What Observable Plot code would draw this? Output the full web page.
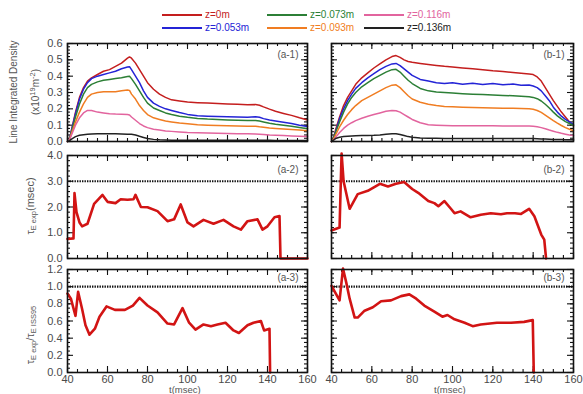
<!DOCTYPE html>
<html><head><meta charset="utf-8">
<script src="https://cdn.jsdelivr.net/npm/d3@7"></script>
<script src="https://cdn.jsdelivr.net/npm/@observablehq/plot@0.6"></script>
<style>
body{margin:0;background:#fff;}
#chart{position:relative;width:583px;height:394px;overflow:hidden;font-family:"Liberation Sans",Arial,sans-serif;color:#444;}
#chart svg{position:absolute;}
.ylab{position:absolute;white-space:nowrap;font-size:10px;color:#555;transform:translate(-50%,-50%) rotate(-90deg);line-height:1;}
.ylab sub{font-size:7.5px;vertical-align:-2px;}
.ylab sup{font-size:7.5px;vertical-align:4px;}
.leg{position:absolute;font-size:10px;white-space:nowrap;line-height:1;}
.legline{position:absolute;height:2px;width:40px;}
</style></head>
<body><div id="chart"></div>
<script>
// ---------- data ----------
const zLabels = ["z=0m","z=0.053m","z=0.073m","z=0.093m","z=0.116m","z=0.136m"];
const zColors = ["#c41e1e","#2424d6","#2c7f36","#f07d22","#e2649e","#222222"];

const tA1 = [40,41,42,44,46,48,50,52,55,58,61,64,67,70,71,72,74,76,78,80,83,86,89,92,96,100,105,110,115,120,125,130,134,136,138,141,144,148,152,156,160];
const a1_z0   = [0,0.01,0.07,0.18,0.27,0.33,0.37,0.39,0.41,0.43,0.44,0.46,0.48,0.51,0.518,0.51,0.48,0.44,0.40,0.36,0.32,0.29,0.27,0.255,0.248,0.242,0.238,0.235,0.232,0.23,0.228,0.225,0.226,0.222,0.212,0.198,0.185,0.172,0.16,0.145,0.132];
const a1_z053 = [0,0.01,0.07,0.17,0.26,0.32,0.36,0.385,0.40,0.41,0.42,0.43,0.445,0.456,0.458,0.44,0.40,0.36,0.31,0.27,0.235,0.215,0.2,0.19,0.177,0.166,0.158,0.155,0.153,0.151,0.15,0.149,0.151,0.148,0.14,0.131,0.125,0.118,0.11,0.1,0.092];
const a1_z073 = [0,0.01,0.06,0.15,0.23,0.29,0.33,0.35,0.365,0.375,0.38,0.385,0.39,0.398,0.40,0.385,0.35,0.31,0.27,0.235,0.205,0.19,0.175,0.165,0.155,0.148,0.141,0.137,0.135,0.132,0.13,0.128,0.129,0.125,0.12,0.112,0.105,0.1,0.094,0.086,0.078];
const a1_z093 = [0,0.01,0.05,0.12,0.18,0.23,0.27,0.29,0.30,0.305,0.305,0.305,0.31,0.315,0.313,0.29,0.26,0.22,0.19,0.165,0.145,0.135,0.125,0.12,0.113,0.108,0.103,0.1,0.098,0.097,0.095,0.094,0.094,0.09,0.087,0.083,0.08,0.077,0.074,0.07,0.066];
const a1_z116 = [0,0.01,0.04,0.1,0.145,0.175,0.19,0.19,0.18,0.175,0.17,0.168,0.167,0.165,0.162,0.15,0.13,0.11,0.095,0.085,0.075,0.07,0.065,0.062,0.058,0.055,0.053,0.052,0.05,0.049,0.048,0.047,0.046,0.045,0.043,0.04,0.038,0.036,0.034,0.032,0.03];
const a1_z136 = [0,0.005,0.015,0.03,0.038,0.042,0.045,0.046,0.047,0.048,0.048,0.047,0.046,0.045,0.045,0.044,0.04,0.032,0.025,0.018,0.013,0.01,0.009,0.008,0.008,0.008,0.008,0.008,0.007,0.007,0.007,0.007,0.007,0.007,0.007,0.007,0.006,0.006,0.006,0.006,0.006];

const tB1 = [40,41,42,44,46,48,50,52,55,58,61,64,67,70,72,74,76,78,80,84,88,92,96,100,105,110,115,120,125,130,134,138,140,142,144,146,148,150,152,154,156,158,160];
const b1_z0   = [0,0.02,0.07,0.15,0.22,0.27,0.31,0.35,0.39,0.42,0.45,0.475,0.50,0.52,0.526,0.515,0.50,0.49,0.485,0.478,0.472,0.466,0.46,0.456,0.45,0.445,0.44,0.433,0.428,0.422,0.418,0.413,0.41,0.395,0.37,0.33,0.29,0.25,0.215,0.18,0.15,0.12,0.095];
const b1_z053 = [0,0.02,0.06,0.14,0.2,0.25,0.29,0.325,0.36,0.39,0.415,0.44,0.46,0.475,0.478,0.465,0.445,0.425,0.405,0.38,0.37,0.36,0.355,0.36,0.35,0.356,0.349,0.355,0.347,0.352,0.345,0.346,0.34,0.33,0.31,0.28,0.25,0.21,0.18,0.155,0.135,0.12,0.105];
const b1_z073 = [0,0.02,0.055,0.12,0.18,0.23,0.27,0.3,0.335,0.36,0.385,0.405,0.425,0.44,0.442,0.425,0.4,0.375,0.355,0.325,0.31,0.303,0.3,0.297,0.293,0.29,0.287,0.285,0.282,0.28,0.277,0.274,0.27,0.262,0.248,0.228,0.205,0.18,0.157,0.138,0.122,0.11,0.098];
const b1_z093 = [0,0.015,0.04,0.09,0.13,0.165,0.195,0.22,0.25,0.27,0.29,0.31,0.33,0.345,0.347,0.33,0.305,0.28,0.26,0.24,0.228,0.22,0.214,0.213,0.21,0.208,0.207,0.205,0.204,0.203,0.202,0.2,0.197,0.19,0.178,0.162,0.145,0.128,0.112,0.098,0.085,0.075,0.066];
const b1_z116 = [0,0.01,0.025,0.055,0.08,0.1,0.115,0.128,0.142,0.155,0.165,0.175,0.185,0.19,0.188,0.18,0.165,0.15,0.135,0.115,0.103,0.1,0.098,0.097,0.097,0.096,0.096,0.096,0.095,0.095,0.095,0.095,0.093,0.09,0.085,0.078,0.07,0.063,0.056,0.05,0.045,0.04,0.036];
const b1_z136 = [0,0.008,0.018,0.026,0.03,0.032,0.034,0.035,0.036,0.037,0.038,0.04,0.045,0.048,0.047,0.043,0.037,0.03,0.026,0.022,0.02,0.02,0.019,0.019,0.019,0.019,0.019,0.019,0.018,0.018,0.018,0.018,0.018,0.017,0.016,0.015,0.014,0.013,0.012,0.012,0.011,0.011,0.01];

const tA2 = [40,43,43.5,44.5,46,47.3,50,53.3,57.5,60,64,66.6,70,73,74,76.7,80,85,90,93.3,96.6,100,103,108,113,118,123,126.7,130,135,137.5,140,143.5,146,146.5,160];
const tauA = [0.76,0.78,2.54,1.8,1.4,1.25,1.35,2.12,2.47,2.2,2.15,2.3,2.28,2.3,2.47,2.0,1.99,1.84,1.45,1.52,2.1,1.4,1.25,1.5,1.35,1.5,1.25,1.12,1.45,1.52,1.12,1.25,1.6,1.65,0,0];
const tB2 = [40,44,45,46,49,53,58,64,68,72,76,80,83,88,91,93,96,99,101,104,109,114,119,124,127,131,134,138,140.6,144,145.5,146.4];
const tauB = [1.09,1.2,4.08,3.0,1.93,2.5,2.63,2.9,2.8,2.9,2.97,2.7,2.55,2.23,2.15,2.03,2.23,1.95,1.76,1.83,1.6,1.7,1.76,1.72,1.76,1.76,1.73,1.93,1.64,0.93,0.73,0];

const tA3 = [40,41.7,44,45.3,47.3,49,51,53.7,56,59.5,63.7,68.7,72.7,76,80,85,90,93.3,97.5,100.8,104,108,111.7,115,119,123,125.7,130,133,136.7,138.3,141,141.3];
const ratioA = [0.92,0.86,0.66,0.94,0.74,0.55,0.44,0.51,0.65,0.77,0.73,0.73,0.78,0.87,0.78,0.70,0.57,0.56,0.75,0.58,0.5,0.56,0.54,0.56,0.58,0.49,0.46,0.55,0.58,0.6,0.49,0.51,0];
const tB3 = [40,44,45.7,47.3,49,51.5,53,56.4,60.5,64.6,69.5,74.5,78.6,82,86,91,95,97.5,101,106,110,114,122,129,135.5,139.8,140.3];
const ratioB = [1.01,0.84,1.21,1.05,0.86,0.64,0.64,0.72,0.76,0.83,0.84,0.89,0.91,0.86,0.78,0.71,0.65,0.67,0.62,0.58,0.54,0.56,0.58,0.58,0.59,0.61,0];

const xTicks = [40,60,80,100,120,140,160];
const y1Ticks = [0,0.1,0.2,0.3,0.4,0.5,0.6];
const y2Ticks = [0,1,2,3,4];
const y3Ticks = [0,0.2,0.4,0.6,0.8,1.0,1.2];
const panelLabels = ["(a-1)","(b-1)","(a-2)","(b-2)","(a-3)","(b-3)"];
const tauRef = [3.0];
const ratioRef = [1.0];

// ---------- helpers ----------
const chart = document.getElementById("chart");
const fmt = d3.format(".1f");
const xMinor = d3.range(40, 160.01, 5);

function longData(t, series) {
  const out = [];
  series.forEach((s, i) => s.forEach((v, j) => out.push({t: t[j], v, z: zLabels[i]})));
  return out;
}
const dataA1 = longData(tA1, [a1_z0,a1_z053,a1_z073,a1_z093,a1_z116,a1_z136]);
const dataB1 = longData(tB1, [b1_z0,b1_z053,b1_z073,b1_z093,b1_z116,b1_z136]);

const cols = [
  {left: 0, width: 312, ml: 67, mr: 5},
  {left: 312, width: 271, ml: 19, mr: 10}
];
const rows = [
  {top: 36, height: 112, mt: 7, mb: 7, domain: [0,0.6], ticks: y1Ticks, minor: d3.range(0,0.6001,0.02), labDy: 7},
  {top: 148, height: 117, mt: 7, mb: 7, domain: [0,4], ticks: y2Ticks, minor: d3.range(0,4.001,0.2), labDy: 10},
  {top: 262, height: 132, mt: 7, mb: 22, domain: [0,1.2], ticks: y3Ticks, minor: d3.range(0,1.2001,0.05), labDy: 4}
];

function panel(ci, ri, marks) {
  const c = cols[ci], r = rows[ri];
  const W = c.width - c.ml - c.mr, H = r.height - r.mt - r.mb;
  const tk = {stroke: "#111", strokeWidth: 1.1};
  const svg = Plot.plot({
    width: c.width, height: r.height,
    marginLeft: c.ml, marginRight: c.mr, marginTop: r.mt, marginBottom: r.mb,
    style: {background: "transparent", fontSize: "11px", fontFamily: "Liberation Sans, Arial, sans-serif", color: "#4a4a4a", overflow: "visible"},
    x: ri === 2 ? {domain: [40,160], ticks: xTicks, tickSize: 0, tickPadding: 3, tickFormat: d => d, label: null}
                : {domain: [40,160], axis: null},
    y: ci === 0 ? {domain: r.domain, ticks: r.ticks, tickSize: 0, tickPadding: 5, tickFormat: fmt, label: null}
                : {domain: r.domain, axis: null},
    color: {domain: zLabels, range: zColors},
    marks: [
      Plot.tickX(xMinor, {x: d => d, insetTop: H - 3, ...tk}),
      Plot.tickX(xMinor, {x: d => d, insetBottom: H - 3, ...tk}),
      Plot.tickX(xTicks, {x: d => d, insetTop: H - 6, ...tk}),
      Plot.tickX(xTicks, {x: d => d, insetBottom: H - 6, ...tk}),
      Plot.tickY(r.minor, {y: d => d, insetRight: W - 3, ...tk}),
      Plot.tickY(r.minor, {y: d => d, insetLeft: W - 3, ...tk}),
      Plot.tickY(r.ticks, {y: d => d, insetRight: W - 6, ...tk}),
      Plot.tickY(r.ticks, {y: d => d, insetLeft: W - 6, ...tk}),
      ...marks,
      Plot.text([panelLabels[ri * 2 + ci]], {text: d => d, frameAnchor: "top-right", dx: -9, dy: r.labDy, fontSize: 10, fill: "#555", textAnchor: "end"}),
      Plot.frame({stroke: "#111", strokeWidth: 1.6})
    ]
  });
  svg.style.left = c.left + "px";
  svg.style.top = r.top + "px";
  chart.appendChild(svg);
}

const tauStyle = {stroke: "#d21414", strokeWidth: 2.6, strokeLinejoin: "round"};
const refStyle = {stroke: "#111", strokeWidth: 2.2, strokeDasharray: "1.4,1.1"};

panel(0, 0, [Plot.line(dataA1, {x: "t", y: "v", z: "z", stroke: "z", strokeWidth: 1.5})]);
panel(1, 0, [Plot.line(dataB1, {x: "t", y: "v", z: "z", stroke: "z", strokeWidth: 1.5})]);
panel(0, 1, [Plot.ruleY(tauRef, refStyle), Plot.line(tA2.map((t,i)=>({t, v: tauA[i]})), {x: "t", y: "v", ...tauStyle})]);
panel(1, 1, [Plot.ruleY(tauRef, refStyle), Plot.line(tB2.map((t,i)=>({t, v: tauB[i]})), {x: "t", y: "v", ...tauStyle})]);
panel(0, 2, [Plot.ruleY(ratioRef, refStyle), Plot.line(tA3.map((t,i)=>({t, v: ratioA[i]})), {x: "t", y: "v", ...tauStyle})]);
panel(1, 2, [Plot.ruleY(ratioRef, refStyle), Plot.line(tB3.map((t,i)=>({t, v: ratioB[i]})), {x: "t", y: "v", ...tauStyle})]);

// ---------- legend ----------
const legPos = [[162,15],[162,28],[267,15],[267,28],[364,15],[364,28]];
zLabels.forEach((lab, i) => {
  const [x, y] = legPos[i];
  const ln = document.createElement("div");
  ln.className = "legline";
  ln.style.left = x + "px"; ln.style.top = (y - 1) + "px"; ln.style.background = zColors[i];
  chart.appendChild(ln);
  const tx = document.createElement("div");
  tx.className = "leg";
  tx.textContent = lab;
  tx.style.left = (x + 43) + "px"; tx.style.top = (y - 5) + "px"; tx.style.color = zColors[i];
  chart.appendChild(tx);
});

// ---------- axis titles ----------
function ylab(html, cx, cy, size) {
  const d = document.createElement("div");
  d.className = "ylab";
  d.innerHTML = html;
  d.style.left = cx + "px"; d.style.top = cy + "px";
  if (size) d.style.fontSize = size;
  chart.appendChild(d);
}
ylab("Line Integrated Density", 14, 92);
ylab("(x10<sup>19</sup>m<sup>-2</sup>)", 35, 92);
ylab("τ<sub>E exp</sub>(msec)", 31, 206, "11px");
ylab("τ<sub>E exp</sub>/τ<sub>E ISS95</sub>", 31, 335, "11px");

function xlab(cx) {
  const d = document.createElement("div");
  d.className = "leg";
  d.textContent = "t(msec)";
  d.style.left = (cx - 18) + "px"; d.style.top = "385px"; d.style.color = "#555"; d.style.fontSize = "9.5px";
  chart.appendChild(d);
}
xlab(187); xlab(452);
</script></body></html>
